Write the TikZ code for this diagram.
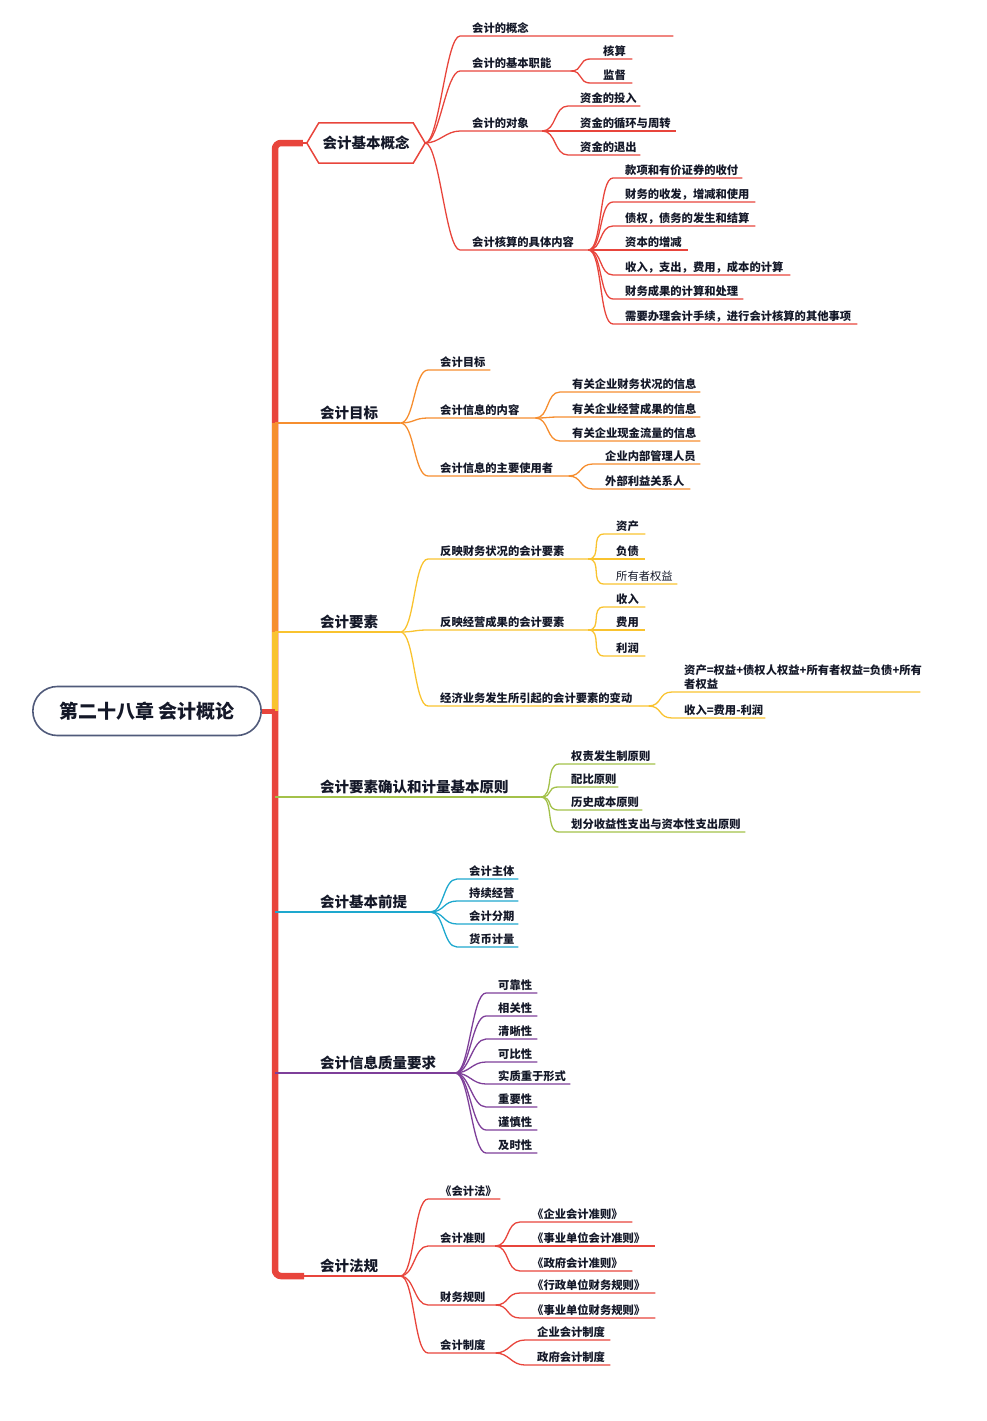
\documentclass[tikz,border=0pt]{standalone}
\usepackage{fontspec}
\setmainfont{Noto Sans CJK SC}
\usetikzlibrary{shapes.misc,calc}
\definecolor{mmred}{RGB}{232,69,60}
\definecolor{mmorange}{RGB}{246,142,47}
\definecolor{mmyellow}{RGB}{249,195,47}
\definecolor{mmgreen}{RGB}{163,193,74}
\definecolor{mmcyan}{RGB}{30,168,206}
\definecolor{mmpurple}{RGB}{126,63,153}
\definecolor{rootline}{RGB}{80,90,122}
\definecolor{ink}{RGB}{20,24,40}
\tikzset{
  rootbox/.style={rounded rectangle, draw=rootline, line width=1.6pt, minimum width=235pt,
    minimum height=49pt, font=\fontsize{19}{22}\selectfont\bfseries, text=ink},
  topic/.style={anchor=south west, inner xsep=0pt, inner ysep=2.5pt, align=left,
    font=\fontsize{14.5}{17}\selectfont\bfseries, text=ink},
  leaf/.style={anchor=south west, inner xsep=0pt, inner ysep=2pt, align=left,
    font=\fontsize{11.3}{14}\selectfont\bfseries, text=ink},
  trunk/.style={line width=6.5pt, rounded corners=6pt},
  lk/.style={line width=1.3pt},
  fork/.style={to path={.. controls +(14,0) and +(-14,0) .. (\tikztotarget)}}
}

\begin{document}
\begin{tikzpicture}[x=1pt, y=-1pt]
  \useasboundingbox (0,0) rectangle (987,1421);

  % root and hub
  \node[rootbox] (root) at (147,711) {第二十八章 会计概论};
  \coordinate (hub) at (275,711);

  % 会计基本概念
  \node[topic, anchor=center, minimum width=118pt, minimum height=40pt] (b1) at (366,143) {会计基本概念};
  \node[leaf, text width=201pt] (a1) at (472,36) {会计的概念};
  \node[leaf, text width=98pt] (a2) at (472,71) {会计的基本职能};
  \node[leaf, text width=70pt] (a3) at (472,131) {会计的对象};
  \node[leaf, text width=116pt] (a4) at (472,250) {会计核算的具体内容};
  \node[leaf, text width=29pt] (a21) at (603,59) {核算};
  \node[leaf, text width=29pt] (a22) at (603,83) {监督};
  \node[leaf, text width=60pt] (a31) at (580,106) {资金的投入};
  \node[leaf, text width=96pt] (a32) at (580,131) {资金的循环与周转};
  \node[leaf, text width=60pt] (a33) at (580,155) {资金的退出};
  \node[leaf, text width=117pt] (a41) at (625,178) {款项和有价证券的收付};
  \node[leaf, text width=130pt] (a42) at (625,202) {财务的收发，增减和使用};
  \node[leaf, text width=130pt] (a43) at (625,226) {债权，债务的发生和结算};
  \node[leaf, text width=63pt] (a44) at (625,250) {资本的增减};
  \node[leaf, text width=165pt] (a45) at (625,275) {收入，支出，费用，成本的计算};
  \node[leaf, text width=118pt] (a46) at (625,299) {财务成果的计算和处理};
  \node[leaf, text width=232pt] (a47) at (625,324) {需要办理会计手续，进行会计核算的其他事项};

  % 会计目标
  \node[topic, text width=80pt] (m2) at (320,423) {会计目标};
  \node[leaf, text width=50pt] (b21) at (440,370) {会计目标};
  \node[leaf, text width=95pt] (b22) at (440,418) {会计信息的内容};
  \node[leaf, text width=128pt] (b23) at (440,476) {会计信息的主要使用者};
  \node[leaf, text width=128pt] (b221) at (572,392) {有关企业财务状况的信息};
  \node[leaf, text width=128pt] (b222) at (572,417) {有关企业经营成果的信息};
  \node[leaf, text width=128pt] (b223) at (572,441) {有关企业现金流量的信息};
  \node[leaf, text width=95pt] (b231) at (605,464) {企业内部管理人员};
  \node[leaf, text width=85pt] (b232) at (605,489) {外部利益关系人};

  % 会计要素
  \node[topic, text width=80pt] (m3) at (320,632) {会计要素};
  \node[leaf, text width=148pt] (c31) at (440,559) {反映财务状况的会计要素};
  \node[leaf, text width=148pt] (c32) at (440,630) {反映经营成果的会计要素};
  \node[leaf, text width=208pt] (c33) at (440,706) {经济业务发生所引起的会计要素的变动};
  \node[leaf, text width=29pt] (c311) at (616,534) {资产};
  \node[leaf, text width=29pt] (c312) at (616,559) {负债};
  \node[leaf, text width=61pt, font=\fontsize{11.3}{14}\selectfont\mdseries] (c313) at (616,584) {所有者权益};
  \node[leaf, text width=29pt] (c321) at (616,607) {收入};
  \node[leaf, text width=29pt] (c322) at (616,630) {费用};
  \node[leaf, text width=29pt] (c323) at (616,656) {利润};
  \node[leaf, text width=236pt] (c331) at (684,692) {资产=权益+债权人权益+所有者权益=负债+所有\\者权益};
  \node[leaf, text width=81pt] (c332) at (684,718) {收入=费用-利润};

  % 会计要素确认和计量基本原则
  \node[topic, text width=220pt] (m4) at (320,797) {会计要素确认和计量基本原则};
  \node[leaf, text width=84pt] (d1) at (571,764) {权责发生制原则};
  \node[leaf, text width=47pt] (d2) at (571,787) {配比原则};
  \node[leaf, text width=71pt] (d3) at (571,810) {历史成本原则};
  \node[leaf, text width=174pt] (d4) at (571,832) {划分收益性支出与资本性支出原则};

  % 会计基本前提
  \node[topic, text width=110pt] (m5) at (320,912) {会计基本前提};
  \node[leaf, text width=49pt] (e1) at (469,879) {会计主体};
  \node[leaf, text width=49pt] (e2) at (469,901) {持续经营};
  \node[leaf, text width=49pt] (e3) at (469,924) {会计分期};
  \node[leaf, text width=49pt] (e4) at (469,947) {货币计量};

  % 会计信息质量要求
  \node[topic, text width=135pt] (m6) at (320,1073) {会计信息质量要求};
  \node[leaf, text width=39pt] (f1) at (498,993) {可靠性};
  \node[leaf, text width=39pt] (f2) at (498,1016) {相关性};
  \node[leaf, text width=39pt] (f3) at (498,1039) {清晰性};
  \node[leaf, text width=39pt] (f4) at (498,1062) {可比性};
  \node[leaf, text width=72pt] (f5) at (498,1084) {实质重于形式};
  \node[leaf, text width=39pt] (f6) at (498,1107) {重要性};
  \node[leaf, text width=39pt] (f7) at (498,1130) {谨慎性};
  \node[leaf, text width=39pt] (f8) at (498,1153) {及时性};

  % 会计法规
  \node[topic, text width=80pt] (m7) at (320,1276) {会计法规};
  \node[leaf, text width=60pt] (g1) at (440,1199) {《会计法》};
  \node[leaf, text width=55pt] (g2) at (440,1246) {会计准则};
  \node[leaf, text width=55pt] (g3) at (440,1305) {财务规则};
  \node[leaf, text width=55pt] (g4) at (440,1353) {会计制度};
  \node[leaf, text width=100pt] (g21) at (532,1222) {《企业会计准则》};
  \node[leaf, text width=123pt] (g22) at (532,1246) {《事业单位会计准则》};
  \node[leaf, text width=100pt] (g23) at (532,1271) {《政府会计准则》};
  \node[leaf, text width=123pt] (g31) at (532,1293) {《行政单位财务规则》};
  \node[leaf, text width=123pt] (g32) at (532,1318) {《事业单位财务规则》};
  \node[leaf, text width=73pt] (g41) at (537,1340) {企业会计制度};
  \node[leaf, text width=73pt] (g42) at (537,1365) {政府会计制度};

  % trunk
  \draw[trunk, mmred] (hub) |- ([xshift=-4pt]b1.west);
  \draw[lk, mmred] ([xshift=-6pt]b1.west) -- (b1.west);
  \draw[line width=6.5pt, mmorange] (hub) -- (hub |- m2.south west);
  \draw[line width=6.5pt, mmyellow] (hub) -- (hub |- m3.south west);
  \draw[line width=6.5pt, mmgreen] (hub) -- (hub |- m4.south west);
  \draw[line width=6.5pt, mmcyan] (hub) -- (hub |- m5.south west);
  \draw[line width=6.5pt, mmpurple] (hub) -- (hub |- m6.south west);
  \draw[trunk, mmred] (hub) |- ([xshift=-16pt]m7.south west);
  \draw[line width=5pt, mmred] (root.east) -- (hub);
  \draw[line width=1.8pt, mmorange] (hub |- m2.south west) -- (m2.south east);
  \draw[line width=1.8pt, mmyellow] (hub |- m3.south west) -- (m3.south east);
  \draw[line width=1.8pt, mmgreen] (hub |- m4.south west) -- (m4.south east);
  \draw[line width=1.8pt, mmcyan] (hub |- m5.south west) -- (m5.south east);
  \draw[line width=1.8pt, mmpurple] (hub |- m6.south west) -- (m6.south east);
  \draw[line width=1.8pt, mmred] ([xshift=-18pt]m7.south west) -- (m7.south east);

  % hexagon
  \draw[mmred, line width=1.5pt] (b1.west) -- ([xshift=12pt]b1.north west) -- ([xshift=-12pt]b1.north east)
    -- (b1.east) -- ([xshift=-12pt]b1.south east) -- ([xshift=12pt]b1.south west) -- cycle;

  % branches
  \foreach \k in {a1,a2,a3,a4}
    \draw[lk, mmred] (b1.east) to[fork] ([xshift=-12pt]\k.south west) -- (\k.south east);
  \foreach \k in {a21,a22}
    \draw[lk, mmred] (a2.south east) to[fork] ([xshift=-12pt]\k.south west) -- (\k.south east);
  \foreach \k in {a31,a32,a33}
    \draw[lk, mmred] (a3.south east) to[fork] ([xshift=-12pt]\k.south west) -- (\k.south east);
  \foreach \k in {a41,a42,a43,a44,a45,a46,a47}
    \draw[lk, mmred] (a4.south east) to[fork] ([xshift=-12pt]\k.south west) -- (\k.south east);

  \foreach \k in {b21,b22,b23}
    \draw[lk, mmorange] (m2.south east) to[fork] ([xshift=-12pt]\k.south west) -- (\k.south east);
  \foreach \k in {b221,b222,b223}
    \draw[lk, mmorange] (b22.south east) to[fork] ([xshift=-12pt]\k.south west) -- (\k.south east);
  \foreach \k in {b231,b232}
    \draw[lk, mmorange] (b23.south east) to[fork] ([xshift=-12pt]\k.south west) -- (\k.south east);

  \foreach \k in {c31,c32,c33}
    \draw[lk, mmyellow] (m3.south east) to[fork] ([xshift=-12pt]\k.south west) -- (\k.south east);
  \foreach \k in {c311,c312,c313}
    \draw[lk, mmyellow] (c31.south east) to[fork] ([xshift=-12pt]\k.south west) -- (\k.south east);
  \foreach \k in {c321,c322,c323}
    \draw[lk, mmyellow] (c32.south east) to[fork] ([xshift=-12pt]\k.south west) -- (\k.south east);
  \foreach \k in {c331,c332}
    \draw[lk, mmyellow] (c33.south east) to[fork] ([xshift=-12pt]\k.south west) -- (\k.south east);

  \foreach \k in {d1,d2,d3,d4}
    \draw[lk, mmgreen] (m4.south east) to[fork] ([xshift=-12pt]\k.south west) -- (\k.south east);
  \foreach \k in {e1,e2,e3,e4}
    \draw[lk, mmcyan] (m5.south east) to[fork] ([xshift=-12pt]\k.south west) -- (\k.south east);
  \foreach \k in {f1,f2,f3,f4,f5,f6,f7,f8}
    \draw[lk, mmpurple] (m6.south east) to[fork] ([xshift=-12pt]\k.south west) -- (\k.south east);

  \foreach \k in {g1,g2,g3,g4}
    \draw[lk, mmred] (m7.south east) to[fork] ([xshift=-12pt]\k.south west) -- (\k.south east);
  \foreach \k in {g21,g22,g23}
    \draw[lk, mmred] (g2.south east) to[fork] ([xshift=-12pt]\k.south west) -- (\k.south east);
  \foreach \k in {g31,g32}
    \draw[lk, mmred] (g3.south east) to[fork] ([xshift=-12pt]\k.south west) -- (\k.south east);
  \foreach \k in {g41,g42}
    \draw[lk, mmred] (g4.south east) to[fork] ([xshift=-12pt]\k.south west) -- (\k.south east);
\end{tikzpicture}
\end{document}
